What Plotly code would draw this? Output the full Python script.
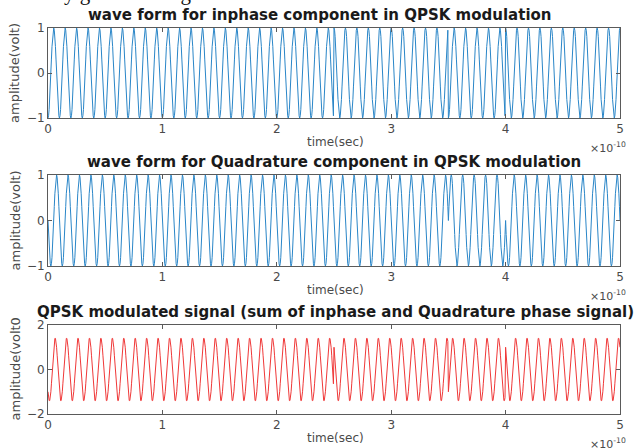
import numpy as np
import plotly.graph_objects as go

# ---- data ----
# symbol boundaries (in units of 1e-10 s) and the bit held on each segment
seg_edges = [0.0, 2.5, 3.5, 4.0, 5.0]
inphase_bits = [-1, 1, -1, 1]
quad_edges = [0.0, 3.5, 4.0, 5.0]
quad_bits = [-1, 1, -1]
carrier_cycles_per_unit = 10          # 10 cycles per 1e-10 s  (100 GHz)
time_unit = 1e-10
x_ticks = [0, 1, 2, 3, 4, 5]
x_ticklabels = ["0", "1", "2", "3", "4", "5"]
titles = ["wave form for inphase component in QPSK modulation",
          "wave form for Quadrature component in QPSK modulation",
          "QPSK modulated signal (sum of inphase and Quadrature phase signal)"]
ylabels = ["amplitude(volt)", "amplitude(volt)", "amplitude(volt0"]

# ---- modulation (as in the original script) ----
samples_per_cycle = 20
n = int(5 * carrier_cycles_per_unit * samples_per_cycle) + 1
tu = np.linspace(0, 5, n)


def bit_at(edges, bits, t):
    out = np.empty_like(t)
    for k, b in enumerate(bits):
        m = (t >= edges[k]) & (t <= edges[k + 1])
        out[m] = b
    return out


ib = bit_at(seg_edges, inphase_bits, tu)
qb = bit_at(quad_edges, quad_bits, tu)
w = 2 * np.pi * carrier_cycles_per_unit * tu
y_i = ib * np.cos(w)
y_q = qb * np.sin(w)
y_s = y_i + y_q
t = tu * time_unit

W, H = 642, 448
L, R, T, B = 48, 22, 28, 34
PW, PH = W - L - R, H - T - B


def py(p):
    return 1 - (p - T) / PH


def px(p):
    return (p - L) / PW


rows = [(28, 118), (175, 266), (325, 414)]
yranges = [(-1, 1), (-1, 1), (-2, 2)]
yticks = [[-1, 0, 1], [-1, 0, 1], [-2, 0, 2]]
title_cx = [320, 334, 335]

fig = go.Figure()
series = [(y_i, "#2a86c8"), (y_q, "#2a86c8"), (y_s, "#f03838")]
for k, (yy, col) in enumerate(series):
    sfx = "" if k == 0 else str(k + 1)
    fig.add_trace(go.Scatter(x=t, y=yy, mode="lines",
                             line=dict(color=col, width=1),
                             xaxis="x" + sfx, yaxis="y" + sfx,
                             showlegend=False, hoverinfo="skip"))

tickfont = dict(family="DejaVu Sans", size=12, color="#4a4a4a")
axis_common = dict(showline=True, linecolor="#5a5a5a", linewidth=1, mirror="ticks",
                   ticks="inside", ticklen=4, tickcolor="#5a5a5a",
                   showgrid=False, zeroline=False, tickfont=tickfont)

layout = dict(width=W, height=H, margin=dict(l=L, r=R, t=T, b=B),
              paper_bgcolor="white", plot_bgcolor="white", showlegend=False)

anns = []
for k in range(3):
    sfx = "" if k == 0 else str(k + 1)
    top, bot = rows[k]
    layout["xaxis" + sfx] = dict(domain=[0, 1], anchor="y" + sfx,
                                 range=[0, 5 * time_unit],
                                 tickvals=[v * time_unit for v in x_ticks],
                                 ticktext=x_ticklabels, **axis_common)
    layout["yaxis" + sfx] = dict(domain=[py(bot), py(top)], anchor="x" + sfx,
                                 range=list(yranges[k]), tickvals=yticks[k],
                                 **axis_common)
    # title
    anns.append(dict(text="<b>" + titles[k] + "</b>", x=px(title_cx[k]),
                     y=py(top - 2), xref="paper", yref="paper",
                     xanchor="center", yanchor="bottom", showarrow=False,
                     font=dict(family="DejaVu Sans", size=15, color="#1a1a1a")))
    # x label
    anns.append(dict(text="time(sec)", x=px(335), y=py(bot + 15),
                     xref="paper", yref="paper", xanchor="center", yanchor="top",
                     showarrow=False, font=dict(family="DejaVu Sans", size=12, color="#4a4a4a")))
    # exponent
    anns.append(dict(text="×10<sup>-10</sup>", x=px(628), y=py(bot + 20),
                     xref="paper", yref="paper", xanchor="right", yanchor="top",
                     showarrow=False, font=dict(family="DejaVu Sans", size=11, color="#4a4a4a")))
    # y label
    anns.append(dict(text=ylabels[k], x=px(15), y=py((top + bot) / 2),
                     xref="paper", yref="paper", xanchor="center", yanchor="middle",
                     textangle=-90, showarrow=False,
                     font=dict(family="DejaVu Sans", size=13, color="#4a4a4a")))

# cropped line of body text at the very top of the picture
anns.append(dict(text="randomly generated signal.", x=px(-8), y=py(7),
                 xref="paper", yref="paper", xanchor="left", yanchor="bottom",
                 showarrow=False, font=dict(family="Liberation Serif", size=21, color="#111")))

layout["annotations"] = anns
fig.update_layout(**layout)
fig.write_html("out.html")
